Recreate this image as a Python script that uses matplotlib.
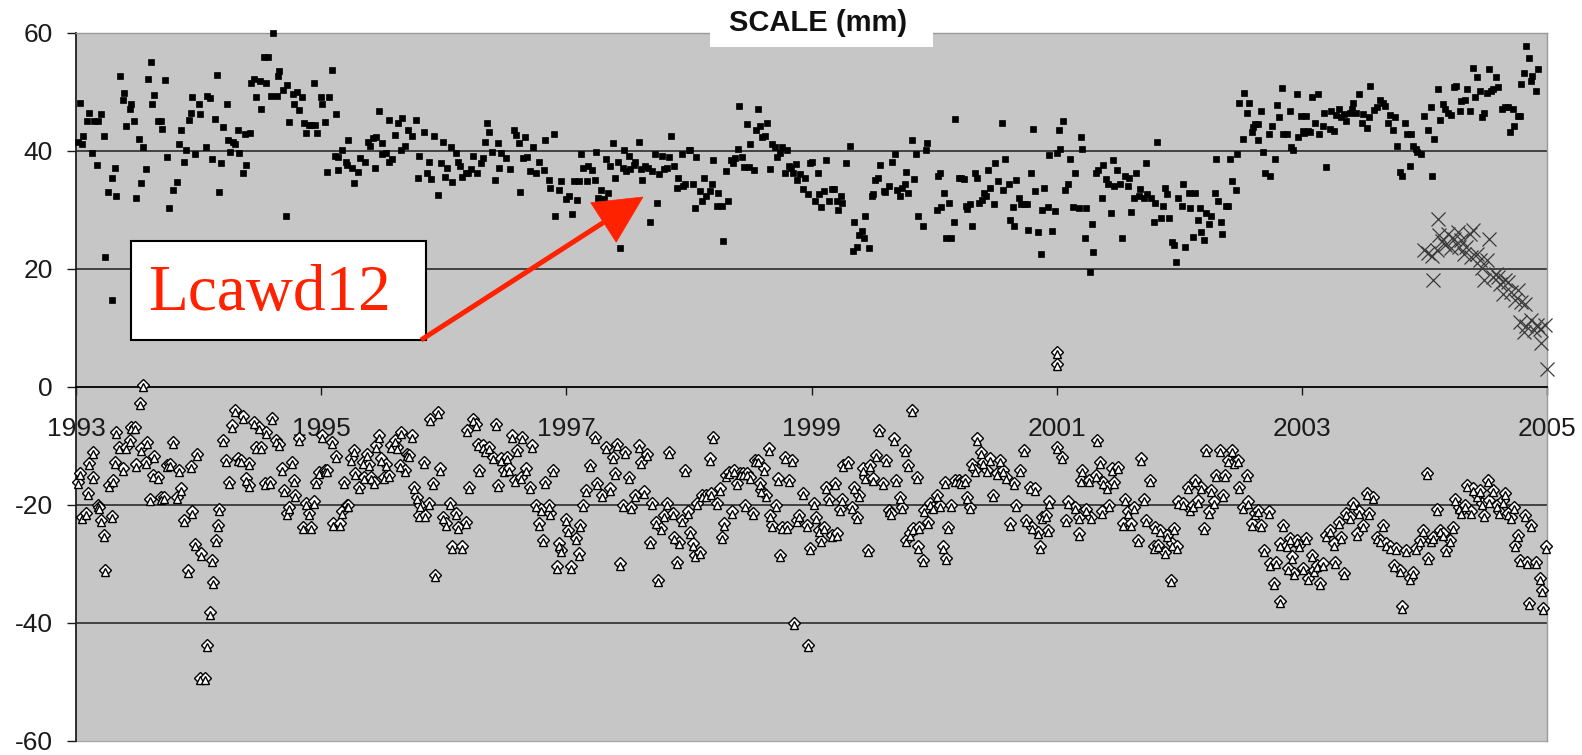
import numpy as np
import matplotlib
matplotlib.use('Agg')
import matplotlib.pyplot as plt
from matplotlib.patches import Rectangle, Polygon
from matplotlib.lines import Line2D
from matplotlib.transforms import ScaledTranslation

plt.rcParams['font.family'] = ['Liberation Sans', 'DejaVu Sans']
plt.rcParams['axes.unicode_minus'] = False

# weekly scale solutions (year, mm)
upper = [
    (1993.03, 48.1), (1993.02, 41.6), (1993.05, 41.2), (1993.06, 42.6), (1993.09, 45.0), (1993.11, 46.4), (1993.13, 39.6), (1993.15, 45.0),
    (1993.18, 45.0), (1993.17, 37.7), (1993.20, 46.2), (1993.23, 42.6), (1993.24, 22.0), (1993.26, 33.1), (1993.29, 35.5), (1993.29, 14.7),
    (1993.32, 37.2), (1993.33, 32.4), (1993.36, 52.7), (1993.38, 48.7), (1993.39, 49.8), (1993.41, 44.3), (1993.44, 47.1), (1993.45, 47.9),
    (1993.47, 45.0), (1993.49, 32.1), (1993.51, 42.0), (1993.53, 34.5), (1993.55, 40.6), (1993.57, 37.0), (1993.59, 52.2), (1993.61, 55.1),
    (1993.62, 47.9), (1993.64, 49.5), (1993.67, 45.0), (1993.69, 45.0), (1993.70, 43.7), (1993.73, 52.0), (1993.74, 38.9), (1993.76, 30.4),
    (1993.79, 33.4), (1993.82, 34.8), (1993.84, 41.2), (1993.86, 43.6), (1993.88, 38.2), (1993.90, 40.2), (1993.92, 45.3), (1993.94, 46.4),
    (1993.95, 49.1), (1993.97, 39.5), (1994.00, 47.9), (1994.01, 46.2), (1994.06, 40.6), (1994.07, 49.3), (1994.09, 48.9), (1994.11, 38.7),
    (1994.13, 45.5), (1994.15, 52.9), (1994.17, 33.1), (1994.18, 38.0), (1994.20, 44.0), (1994.23, 47.9), (1994.24, 41.9), (1994.26, 39.9),
    (1994.28, 41.6), (1994.30, 41.2), (1994.32, 43.5), (1994.33, 39.6), (1994.36, 36.2), (1994.38, 42.9), (1994.39, 37.7), (1994.42, 43.0),
    (1994.43, 51.5), (1994.45, 52.2), (1994.47, 49.2), (1994.50, 51.8), (1994.51, 47.1), (1994.53, 55.9), (1994.55, 51.5), (1994.57, 55.9),
    (1994.59, 49.3), (1994.61, 60.0), (1994.64, 49.3), (1994.65, 52.7), (1994.66, 53.5), (1994.69, 50.4), (1994.71, 29.0), (1994.72, 51.2),
    (1994.74, 44.9), (1994.77, 49.6), (1994.78, 47.9), (1994.80, 50.0), (1994.82, 47.0), (1994.84, 49.1), (1994.86, 44.7), (1994.88, 43.1),
    (1994.90, 44.4), (1994.92, 44.4), (1994.94, 51.5), (1994.95, 44.4), (1994.97, 43.1), (1995.00, 49.2), (1995.01, 47.9), (1995.03, 44.9),
    (1995.06, 49.2), (1995.09, 53.7), (1995.12, 46.2), (1995.11, 39.2), (1995.05, 36.5), (1995.14, 36.7), (1995.14, 39.0), (1995.17, 40.2),
    (1995.20, 38.2), (1995.22, 41.9), (1995.21, 37.6), (1995.25, 37.1), (1995.27, 34.6), (1995.30, 36.5), (1995.32, 38.8), (1995.36, 38.2),
    (1995.38, 41.6), (1995.40, 40.9), (1995.42, 42.2), (1995.44, 37.2), (1995.45, 42.4), (1995.47, 46.7), (1995.50, 41.3), (1995.50, 39.5),
    (1995.53, 39.6), (1995.55, 45.2), (1995.55, 38.1), (1995.58, 38.6), (1995.60, 42.7), (1995.63, 44.7), (1995.65, 40.2), (1995.66, 45.6),
    (1995.68, 40.9), (1995.71, 43.6), (1995.74, 42.6), (1995.77, 45.3), (1995.79, 35.5), (1995.80, 39.2), (1995.84, 43.3), (1995.86, 36.2),
    (1995.88, 38.2), (1995.90, 35.3), (1995.92, 42.6), (1995.95, 32.5), (1995.98, 37.9), (1995.99, 41.6), (1996.01, 35.6), (1996.03, 37.1),
    (1996.06, 40.6), (1996.07, 34.8), (1996.10, 39.6), (1996.12, 38.2), (1996.13, 37.5), (1996.15, 35.6), (1996.18, 36.2), (1996.20, 36.2),
    (1996.22, 36.9), (1996.24, 39.2), (1996.27, 36.3), (1996.30, 37.9), (1996.32, 38.8), (1996.34, 41.6), (1996.35, 44.7), (1996.37, 43.3),
    (1996.39, 39.9), (1996.42, 35.1), (1996.44, 41.3), (1996.45, 37.2), (1996.47, 39.6), (1996.51, 38.8), (1996.54, 37.0), (1996.57, 43.6),
    (1996.59, 42.7), (1996.61, 41.3), (1996.62, 33.1), (1996.65, 38.8), (1996.66, 42.4), (1996.68, 38.9), (1996.70, 36.6), (1996.73, 40.6),
    (1996.75, 36.3), (1996.78, 38.2), (1996.82, 36.7), (1996.83, 41.9), (1996.86, 35.1), (1996.87, 33.7),
    (1996.90, 42.8), (1996.91, 29.0), (1996.94, 33.4), (1996.96, 34.9), (1997.00, 31.8), (1997.02, 32.4), (1997.05, 29.4), (1997.06, 34.9),
    (1997.09, 31.7), (1997.10, 34.9), (1997.12, 39.5), (1997.14, 37.2), (1997.17, 34.9), (1997.18, 37.5), (1997.21, 36.7), (1997.23, 35.1),
    (1997.24, 39.9), (1997.26, 32.1), (1997.28, 33.4), (1997.31, 31.9), (1997.32, 38.6), (1997.34, 32.9), (1997.36, 37.5), (1997.38, 41.3),
    (1997.40, 35.5), (1997.42, 38.2), (1997.44, 23.5), (1997.46, 37.2), (1997.47, 40.2), (1997.49, 36.6), (1997.51, 39.2), (1997.52, 36.9),
    (1997.55, 37.6), (1997.56, 38.2), (1997.59, 41.6), (1997.61, 36.9), (1997.62, 35.1), (1997.64, 37.5), (1997.67, 37.2), (1997.68, 28.0),
    (1997.70, 36.6), (1997.72, 39.5), (1997.74, 31.2), (1997.76, 36.1), (1997.78, 39.2), (1997.80, 36.9), (1997.82, 37.1), (1997.84, 38.9),
    (1997.85, 42.5), (1997.88, 37.5), (1997.90, 33.8), (1997.91, 35.5), (1997.94, 39.5), (1997.95, 34.1), (1997.97, 34.4), (1998.00, 40.1),
    (1998.01, 40.2), (1998.03, 34.4), (1998.05, 30.3), (1998.06, 38.9), (1998.09, 33.2), (1998.11, 31.5), (1998.12, 35.5), (1998.14, 32.3),
    (1998.17, 33.3), (1998.19, 34.4), (1998.20, 38.4), (1998.23, 30.7), (1998.24, 32.8), (1998.27, 30.7), (1998.28, 24.7), (1998.30, 36.6),
    (1998.32, 31.5), (1998.34, 38.5), (1998.36, 37.9), (1998.38, 38.8), (1998.40, 40.4), (1998.41, 47.6), (1998.43, 38.9), (1998.45, 37.3),
    (1998.47, 44.5), (1998.49, 37.3), (1998.50, 41.2), (1998.53, 36.8), (1998.55, 43.6), (1998.56, 47.2), (1998.58, 44.2), (1998.60, 42.4),
    (1998.62, 42.5), (1998.64, 44.7), (1998.66, 37.0), (1998.68, 41.2), (1998.70, 40.6), (1998.72, 38.9), (1998.74, 39.7), (1998.76, 40.7),
    (1998.78, 36.3), (1998.80, 40.2), (1998.82, 37.5), (1998.83, 37.1), (1998.85, 36.3), (1998.87, 37.8), (1998.88, 35.1), (1998.91, 36.1),
    (1998.93, 33.6), (1998.95, 35.4), (1998.97, 32.7), (1998.99, 38.0), (1999.00, 38.2), (1999.03, 31.5), (1999.05, 36.3), (1999.06, 32.7),
    (1999.08, 30.5), (1999.10, 33.3), (1999.12, 38.4), (1999.14, 31.6), (1999.17, 33.6), (1999.18, 33.6), (1999.21, 31.5), (1999.22, 30.0),
    (1999.24, 32.4), (1999.25, 31.2), (1999.28, 37.9), (1999.31, 40.8), (1999.34, 23.0), (1999.35, 28.0), (1999.37, 23.8), (1999.39, 25.8),
    (1999.41, 26.4), (1999.43, 25.2), (1999.44, 29.0), (1999.47, 23.5), (1999.49, 32.3), (1999.50, 32.7), (1999.52, 35.1), (1999.54, 35.5),
    (1999.56, 37.7), (1999.59, 33.2), (1999.60, 33.0), (1999.63, 34.1), (1999.66, 38.2), (1999.68, 39.5), (1999.70, 33.4), (1999.72, 32.4),
    (1999.74, 33.7), (1999.76, 34.4), (1999.77, 36.5), (1999.79, 32.8), (1999.82, 41.9), (1999.84, 35.3), (1999.85, 39.5), (1999.87, 29.0),
    (1999.91, 27.3), (1999.94, 41.3), (1999.93, 40.2), (2000.02, 30.0), (2000.03, 35.8), (2000.05, 36.3), (2000.06, 30.5), (2000.08, 32.9),
    (2000.10, 25.2), (2000.14, 25.2), (2000.12, 31.2), (2000.16, 27.9), (2000.17, 45.4), (2000.20, 35.4), (2000.22, 35.5), (2000.24, 35.2),
    (2000.26, 30.6), (2000.27, 30.1), (2000.29, 31.1), (2000.31, 27.3), (2000.33, 36.3), (2000.35, 35.5), (2000.37, 31.2), (2000.39, 31.7),
    (2000.41, 32.8), (2000.42, 32.4), (2000.44, 36.8), (2000.46, 33.8), (2000.49, 31.0), (2000.50, 38.0), (2000.52, 34.9), (2000.55, 44.7),
    (2000.56, 33.4), (2000.58, 38.6), (2000.61, 34.4), (2000.62, 28.3), (2000.64, 30.5), (2000.65, 27.3), (2000.67, 35.1), (2000.69, 32.1),
    (2000.71, 31.0), (2000.73, 31.0), (2000.76, 31.0), (2000.77, 26.6), (2000.79, 36.3), (2000.81, 43.7), (2000.82, 33.2), (2000.85, 26.2),
    (2000.87, 22.5), (2000.88, 30.0), (2000.90, 33.8), (2000.93, 30.5), (2000.94, 39.4), (2000.96, 26.4), (2000.99, 29.8), (2001.00, 39.7),
    (2001.02, 43.6), (2001.03, 40.3), (2001.05, 45.0), (2001.07, 33.4), (2001.09, 34.4), (2001.11, 38.6), (2001.13, 30.5), (2001.15, 36.3),
    (2001.18, 30.3), (2001.20, 42.3), (2001.21, 40.3), (2001.23, 25.2), (2001.24, 30.3), (2001.27, 19.5), (2001.29, 27.6), (2001.30, 22.8),
    (2001.32, 36.2), (2001.34, 36.8), (2001.37, 32.0), (2001.38, 37.7), (2001.40, 35.2), (2001.42, 34.4), (2001.44, 29.5), (2001.46, 38.5),
    (2001.47, 34.1), (2001.49, 36.8), (2001.52, 34.4), (2001.53, 25.2), (2001.56, 35.8), (2001.58, 34.1), (2001.59, 35.4), (2001.61, 29.7),
    (2001.63, 32.0), (2001.65, 36.3), (2001.67, 32.4), (2001.68, 33.6), (2001.71, 32.1), (2001.73, 38.0), (2001.74, 32.7), (2001.77, 32.1),
    (2001.79, 27.9), (2001.80, 31.2), (2001.82, 41.6), (2001.85, 28.6), (2001.87, 30.7), (2001.88, 33.8), (2001.90, 32.7), (2001.92, 28.6),
    (2001.94, 24.5), (2001.96, 24.1), (2001.97, 21.2), (2001.99, 32.1), (2002.02, 30.7), (2002.03, 34.4), (2002.05, 23.8), (2002.08, 32.9),
    (2002.09, 30.3), (2002.11, 25.5), (2002.13, 32.9), (2002.15, 28.3), (2002.17, 30.3), (2002.18, 26.2), (2002.20, 24.9), (2002.22, 29.5),
    (2002.24, 27.6), (2002.26, 29.0), (2002.29, 32.9), (2002.30, 38.6), (2002.32, 31.5), (2002.34, 27.9), (2002.35, 25.9), (2002.38, 30.7),
    (2002.40, 30.7), (2002.41, 38.6), (2002.43, 34.9), (2002.46, 33.4), (2002.47, 39.5), (2002.49, 48.1), (2002.52, 42.0), (2002.53, 49.8),
    (2002.55, 46.4), (2002.57, 48.1), (2002.59, 43.3), (2002.60, 44.0), (2002.62, 44.5), (2002.64, 44.5), (2002.64, 41.9), (2002.67, 46.7),
    (2002.68, 39.9), (2002.70, 36.3), (2002.73, 42.8), (2002.74, 35.8), (2002.76, 44.2), (2002.78, 38.6), (2002.80, 47.8), (2002.81, 45.7),
    (2002.84, 50.7), (2002.85, 42.8), (2002.88, 42.8), (2002.90, 46.7), (2002.91, 40.7), (2002.93, 40.2), (2002.96, 49.6), (2002.97, 42.4),
    (2002.99, 45.9), (2003.01, 43.4), (2003.02, 43.0), (2003.03, 45.9), (2003.05, 43.4), (2003.07, 43.3), (2003.08, 49.1), (2003.11, 44.8),
    (2003.13, 49.6), (2003.14, 42.8), (2003.17, 44.2), (2003.18, 46.4), (2003.20, 37.3), (2003.23, 43.8), (2003.24, 46.7), (2003.26, 43.4),
    (2003.28, 46.1), (2003.30, 47.2), (2003.32, 45.8), (2003.34, 46.2), (2003.36, 45.1), (2003.39, 46.5), (2003.41, 47.2), (2003.42, 48.1),
    (2003.44, 46.5), (2003.47, 49.6), (2003.49, 44.8), (2003.50, 46.2), (2003.53, 43.9), (2003.55, 45.8), (2003.56, 51.0), (2003.59, 46.9),
    (2003.61, 47.4), (2003.64, 48.6), (2003.66, 48.1), (2003.68, 47.6), (2003.70, 44.8), (2003.72, 46.1), (2003.74, 43.6), (2003.76, 45.7),
    (2003.78, 40.8), (2003.80, 36.5), (2003.82, 35.7), (2003.84, 44.8), (2003.86, 42.8), (2003.88, 37.5), (2003.89, 42.8), (2003.91, 40.8),
    (2003.93, 40.3), (2003.94, 39.9), (2003.97, 39.5), (2004.00, 45.9), (2004.03, 43.6), (2004.05, 47.4), (2004.06, 35.7), (2004.08, 42.1),
    (2004.11, 50.5), (2004.13, 45.2), (2004.15, 47.9), (2004.17, 47.1), (2004.19, 46.5), (2004.22, 46.1), (2004.24, 50.8), (2004.26, 51.0),
    (2004.29, 46.7), (2004.30, 48.5), (2004.33, 48.6), (2004.35, 50.5), (2004.37, 46.7), (2004.40, 54.1), (2004.41, 49.1), (2004.43, 52.5),
    (2004.45, 50.1), (2004.47, 45.7), (2004.49, 46.4), (2004.51, 49.9), (2004.53, 53.9), (2004.54, 50.2), (2004.56, 50.5), (2004.58, 52.5),
    (2004.60, 50.8), (2004.63, 47.2), (2004.66, 47.4), (2004.68, 47.4), (2004.70, 43.3), (2004.72, 47.2), (2004.73, 44.2), (2004.76, 45.9),
    (2004.78, 45.9), (2004.79, 51.3), (2004.81, 53.3), (2004.83, 57.8), (2004.85, 55.8), (2004.87, 51.9), (2004.88, 52.7), (2004.91, 50.2),
    (2004.93, 53.9),
]

lower = [
    (1993.03, -14.6), (1993.02, -16.1), (1993.05, -22.0), (1993.08, -21.4), (1993.10, -18.0), (1993.11, -12.8), (1993.14, -11.0), (1993.14, -15.2),
    (1993.18, -20.0), (1993.19, -20.3), (1993.20, -22.5), (1993.23, -25.1), (1993.24, -31.0), (1993.27, -16.6), (1993.29, -21.9), (1993.30, -15.8),
    (1993.32, -12.7), (1993.33, -7.6), (1993.35, -10.1), (1993.38, -13.8), (1993.41, -10.1), (1993.44, -9.0), (1993.45, -6.8), (1993.48, -6.8),
    (1993.49, -13.1), (1993.52, -2.7), (1993.55, 0.3), (1993.53, -10.4), (1993.57, -12.7), (1993.58, -9.3), (1993.60, -18.9), (1993.63, -14.9),
    (1993.64, -11.7), (1993.67, -15.2), (1993.69, -18.7), (1993.72, -18.6), (1993.74, -13.2), (1993.77, -13.0), (1993.79, -9.3), (1993.82, -18.6),
    (1993.84, -14.1), (1993.86, -17.2), (1993.88, -22.5), (1993.91, -31.1), (1993.94, -13.4), (1993.95, -21.1), (1993.97, -26.6), (1993.99, -11.4),
    (1994.02, -28.2), (1994.01, -49.3), (1994.05, -49.3), (1994.07, -43.7), (1994.09, -38.2), (1994.11, -29.3), (1994.12, -33.0), (1994.14, -25.9),
    (1994.16, -23.4), (1994.17, -20.6), (1994.20, -9.0), (1994.22, -12.4), (1994.25, -16.1), (1994.27, -6.5), (1994.30, -3.9), (1994.32, -12.1),
    (1994.35, -12.4), (1994.36, -5.0), (1994.39, -15.5), (1994.41, -12.8), (1994.41, -16.6), (1994.45, -5.9), (1994.47, -10.1), (1994.49, -6.8),
    (1994.51, -10.1), (1994.54, -16.3), (1994.55, -7.6), (1994.58, -16.1), (1994.60, -5.2), (1994.63, -9.0), (1994.66, -9.6), (1994.68, -13.8),
    (1994.70, -17.5), (1994.72, -21.3), (1994.74, -20.3), (1994.76, -12.7), (1994.78, -15.8), (1994.79, -18.3), (1994.82, -8.7), (1994.85, -23.7),
    (1994.88, -19.7), (1994.90, -21.4), (1994.92, -23.7), (1994.94, -19.4), (1994.96, -16.1), (1994.98, -14.4), (1995.01, -8.2), (1995.03, -14.1),
    (1995.05, -14.1), (1995.09, -9.3), (1995.10, -23.1), (1995.12, -11.7), (1995.15, -23.1), (1995.17, -21.1), (1995.19, -16.1), (1995.21, -20.0),
    (1995.22, -20.0), (1995.24, -12.1), (1995.27, -10.7), (1995.28, -14.6), (1995.31, -16.9), (1995.34, -12.7), (1995.35, -15.2), (1995.37, -11.3),
    (1995.39, -13.0), (1995.41, -15.2), (1995.43, -16.1), (1995.45, -9.9), (1995.47, -8.2), (1995.49, -12.1), (1995.51, -15.2), (1995.53, -13.0),
    (1995.55, -14.9), (1995.57, -9.9), (1995.60, -9.0), (1995.62, -10.1), (1995.64, -13.2), (1995.65, -7.6), (1995.68, -14.1), (1995.70, -11.3),
    (1995.72, -11.5), (1995.74, -8.2), (1995.76, -16.9), (1995.78, -18.6), (1995.80, -21.7), (1995.81, -20.0), (1995.84, -12.7), (1995.85, -21.7),
    (1995.88, -19.7), (1995.89, -5.4), (1995.91, -16.3), (1995.93, -31.8), (1995.95, -4.2), (1995.97, -13.8), (1995.99, -22.0), (1996.02, -23.1),
    (1996.05, -19.7), (1996.07, -27.0), (1996.10, -21.4), (1996.12, -23.7), (1996.15, -27.0), (1996.18, -22.8), (1996.19, -7.3), (1996.21, -16.9),
    (1996.24, -5.4), (1996.26, -6.2), (1996.28, -9.6), (1996.29, -14.1), (1996.32, -9.9), (1996.34, -10.7), (1996.37, -10.1), (1996.40, -11.8),
    (1996.43, -6.2), (1996.44, -16.6), (1996.47, -12.1), (1996.49, -14.1), (1996.52, -11.8), (1996.53, -13.8), (1996.56, -8.2), (1996.58, -15.8),
    (1996.60, -10.7), (1996.63, -15.2), (1996.64, -8.5), (1996.67, -13.8), (1996.70, -16.9), (1996.72, -9.9), (1996.75, -20.0), (1996.78, -23.1),
    (1996.79, -20.6), (1996.81, -25.9), (1996.83, -16.1), (1996.86, -20.0), (1996.87, -21.4), (1996.89, -14.1), (1996.92, -30.4), (1996.94, -26.5),
    (1996.96, -27.6), (1997.00, -22.3), (1997.01, -24.2), (1997.04, -30.4),
    (1997.10, -28.2), (1997.08, -25.6), (1997.11, -23.4), (1997.14, -20.0), (1997.16, -17.5), (1997.19, -13.2), (1997.23, -8.5), (1997.25, -16.3),
    (1997.29, -18.3), (1997.32, -10.1), (1997.36, -17.2), (1997.38, -11.8), (1997.41, -9.6), (1997.40, -14.6), (1997.44, -29.9), (1997.46, -20.0),
    (1997.48, -11.0), (1997.51, -15.2), (1997.53, -20.3), (1997.56, -18.3), (1997.59, -9.9), (1997.61, -12.7), (1997.63, -17.7), (1997.66, -11.3),
    (1997.68, -26.2), (1997.70, -19.7), (1997.73, -22.8), (1997.75, -32.7), (1997.77, -23.9), (1997.80, -21.7), (1997.82, -19.7), (1997.84, -11.0),
    (1997.87, -21.4), (1997.88, -25.4), (1997.90, -29.6), (1997.92, -26.2), (1997.94, -22.5), (1997.97, -14.1), (1997.99, -21.1), (1998.01, -24.5),
    (1998.03, -26.5), (1998.05, -28.5), (1998.07, -19.7), (1998.09, -27.9), (1998.11, -18.3), (1998.14, -18.3), (1998.17, -12.1), (1998.18, -18.0),
    (1998.20, -8.5), (1998.23, -19.7), (1998.25, -17.2), (1998.27, -25.4), (1998.29, -23.1), (1998.30, -14.9), (1998.33, -14.4), (1998.35, -21.1),
    (1998.37, -14.1), (1998.39, -16.3), (1998.42, -14.6), (1998.44, -14.6), (1998.46, -20.0), (1998.47, -14.6), (1998.50, -15.2), (1998.52, -21.4),
    (1998.54, -12.4), (1998.56, -12.4), (1998.58, -16.3), (1998.59, -17.5), (1998.61, -13.8), (1998.63, -18.3), (1998.65, -10.4), (1998.66, -21.7),
    (1998.68, -23.4), (1998.71, -20.0), (1998.73, -15.5), (1998.74, -28.5), (1998.76, -23.7), (1998.78, -11.8), (1998.80, -23.7), (1998.82, -15.8),
    (1998.84, -12.4), (1998.86, -40.0), (1998.88, -22.5), (1998.90, -21.7), (1998.93, -18.0), (1998.96, -23.4), (1998.97, -43.7), (1998.99, -27.3),
    (1999.02, -19.7), (1999.04, -22.0), (1999.06, -24.2), (1999.08, -25.9), (1999.10, -23.7), (1999.12, -16.9), (1999.14, -18.9), (1999.17, -25.1),
    (1999.19, -16.3), (1999.21, -24.8), (1999.23, -20.6), (1999.25, -18.9), (1999.26, -13.2), (1999.30, -12.7), (1999.33, -20.3), (1999.35, -16.9),
    (1999.37, -22.0), (1999.39, -18.3), (1999.42, -13.8), (1999.44, -15.2), (1999.46, -27.6), (1999.48, -13.2), (1999.50, -15.5), (1999.53, -11.5),
    (1999.55, -7.3), (1999.58, -16.3), (1999.61, -12.4), (1999.63, -20.8), (1999.65, -21.4), (1999.67, -8.7), (1999.69, -15.8), (1999.72, -18.6),
    (1999.74, -20.3), (1999.76, -10.7), (1999.79, -13.2), (1999.82, -3.9), (1999.86, -15.2), (1999.77, -25.9), (1999.80, -24.8), (1999.83, -23.9),
    (1999.87, -27.0), (1999.91, -29.3), (1999.88, -23.7), (1999.92, -20.8), (1999.95, -22.8), (1999.97, -19.7), (1999.99, -20.3), (2000.02, -18.3),
    (2000.05, -20.0), (2000.07, -27.0), (2000.09, -16.1), (2000.10, -29.0), (2000.11, -23.7), (2000.14, -20.0), (2000.17, -15.8), (2000.20, -15.8),
    (2000.22, -16.1), (2000.25, -15.8), (2000.27, -18.6), (2000.29, -20.3), (2000.31, -13.0), (2000.33, -14.1), (2000.35, -8.7), (2000.38, -11.0),
    (2000.40, -12.7), (2000.43, -14.1), (2000.46, -12.1), (2000.48, -18.3), (2000.51, -14.6), (2000.54, -12.4), (2000.56, -14.1), (2000.59, -15.2),
    (2000.62, -23.1), (2000.65, -16.3), (2000.67, -20.0), (2000.70, -14.1), (2000.73, -10.7), (2000.75, -22.5), (2000.78, -16.9), (2000.80, -23.7),
    (2000.82, -17.2), (2000.85, -24.5), (2000.86, -27.0), (2000.88, -22.0), (2000.91, -21.7), (2000.93, -24.2), (2000.94, -19.4), (2001.00, -10.1),
    (2001.04, -11.8), (2001.08, -22.5), (2001.09, -19.4), (2001.00, 6.0), (2001.00, 3.9),
    (2001.15, -20.3), (2001.18, -24.8), (2001.18, -22.0), (2001.20, -15.8), (2001.21, -14.1), (2001.24, -20.6), (2001.26, -15.8), (2001.28, -22.0),
    (2001.32, -14.9), (2001.33, -9.0), (2001.35, -12.7), (2001.37, -21.1), (2001.38, -16.1), (2001.41, -16.9), (2001.43, -20.0), (2001.45, -13.8),
    (2001.47, -16.1), (2001.50, -13.5), (2001.54, -23.1), (2001.56, -18.9), (2001.58, -21.1), (2001.61, -23.1), (2001.63, -20.3), (2001.66, -25.9),
    (2001.69, -12.1), (2001.71, -18.9), (2001.73, -22.5), (2001.76, -15.8), (2001.79, -27.0), (2001.80, -23.7), (2001.83, -26.8), (2001.84, -24.2),
    (2001.88, -27.9), (2001.90, -25.1), (2001.93, -32.7), (2001.94, -26.5), (2001.96, -23.9), (2001.98, -27.0), (2001.99, -19.4), (2002.03, -19.7),
    (2002.07, -16.9), (2002.09, -20.6), (2002.11, -20.0), (2002.13, -15.8), (2002.15, -19.2), (2002.18, -16.9), (2002.20, -23.9), (2002.22, -10.7),
    (2002.24, -21.1), (2002.26, -17.5), (2002.28, -19.4), (2002.30, -14.9), (2002.33, -10.7), (2002.36, -18.3), (2002.37, -14.9), (2002.40, -12.4),
    (2002.43, -10.7), (2002.45, -12.7), (2002.48, -12.4), (2002.49, -16.9), (2002.52, -20.3), (2002.55, -14.9), (2002.56, -19.4), (2002.59, -23.1),
    (2002.62, -21.4), (2002.64, -20.8), (2002.67, -23.4), (2002.69, -27.6), (2002.73, -21.1), (2002.74, -29.9), (2002.77, -33.2), (2002.79, -29.6),
    (2002.82, -36.3), (2002.82, -26.5), (2002.85, -23.4), (2002.88, -26.8), (2002.89, -30.7), (2002.90, -25.6), (2002.92, -28.7), (2002.94, -31.5),
    (2002.96, -25.9), (2002.98, -26.8), (2003.01, -30.7), (2003.03, -25.6), (2003.05, -32.4), (2003.08, -28.5), (2003.10, -31.0), (2003.12, -30.1),
    (2003.15, -33.2), (2003.17, -29.9), (2003.20, -25.1), (2003.23, -24.2), (2003.26, -26.5), (2003.27, -29.6), (2003.30, -22.8), (2003.32, -25.4),
    (2003.34, -31.5), (2003.36, -21.4), (2003.39, -22.0), (2003.42, -19.7), (2003.45, -24.8), (2003.47, -21.1), (2003.50, -23.4), (2003.53, -18.0),
    (2003.55, -21.4), (2003.58, -18.6), (2003.61, -25.4), (2003.64, -25.9), (2003.66, -23.4), (2003.69, -26.5), (2003.72, -27.0), (2003.75, -30.1),
    (2003.77, -27.3), (2003.80, -31.0), (2003.82, -37.2), (2003.85, -27.6), (2003.88, -32.4), (2003.91, -31.3), (2003.93, -27.3), (2003.96, -25.9),
    (2003.99, -24.2), (2004.02, -14.6), (2004.03, -29.0), (2004.05, -25.9), (2004.07, -25.4), (2004.10, -20.6), (2004.13, -24.2), (2004.15, -24.8),
    (2004.18, -27.6), (2004.21, -25.9), (2004.23, -23.7), (2004.25, -18.9), (2004.28, -20.3), (2004.30, -21.1), (2004.33, -20.0), (2004.35, -16.6),
    (2004.38, -21.1), (2004.40, -17.2), (2004.43, -18.3), (2004.45, -17.5), (2004.47, -19.7), (2004.49, -21.7), (2004.52, -15.8), (2004.53, -19.2),
    (2004.56, -17.5), (2004.59, -20.0), (2004.61, -21.1), (2004.64, -19.2), (2004.66, -18.0), (2004.68, -21.4), (2004.71, -22.0), (2004.73, -20.3),
    (2004.76, -25.1), (2004.74, -26.8), (2004.78, -29.3), (2004.82, -21.7), (2004.84, -29.6), (2004.85, -36.6), (2004.87, -23.4), (2004.91, -29.6),
    (2004.94, -32.4), (2004.96, -34.4), (2004.97, -37.5), (2004.995, -27.0),
]

crosses = [
    (2004.11, 28.4), (2004.00, 23.3), (2004.03, 22.7), (2004.06, 22.2), (2004.07, 18.2), (2004.10, 23.2), (2004.12, 25.7), (2004.14, 24.8),
    (2004.17, 24.0), (2004.19, 26.0), (2004.22, 23.6), (2004.24, 25.0), (2004.27, 26.3), (2004.28, 23.8), (2004.30, 24.9), (2004.32, 22.6),
    (2004.34, 23.8), (2004.37, 26.0), (2004.38, 22.1), (2004.40, 26.6), (2004.43, 22.6), (2004.45, 21.5), (2004.47, 20.1), (2004.49, 18.1),
    (2004.51, 21.5), (2004.53, 25.0), (2004.56, 18.7), (2004.58, 19.2), (2004.60, 18.7), (2004.62, 17.5), (2004.64, 15.8), (2004.66, 18.1),
    (2004.68, 17.8), (2004.71, 16.1), (2004.74, 14.7), (2004.76, 16.4), (2004.79, 14.4), (2004.82, 14.1), (2004.78, 11.0), (2004.81, 9.3),
    (2004.83, 10.3), (2004.87, 11.3), (2004.89, 9.6), (2004.92, 10.5), (2004.94, 9.9), (2004.95, 7.4), (2004.98, 10.5), (2004.996, 3.1),
]

year_ticks = [1993, 1995, 1997, 1999, 2001, 2003, 2005]
mm_ticks = [-60, -40, -20, 0, 20, 40, 60]
grid_mm = [40, 20, -20, -40]
title = 'SCALE (mm)'
label = 'Lcawd12'

W, H = 1582, 755
RED = '#ff2200'


def px(x, y):
    # top-left pixel -> figure fraction
    return x / W, 1 - y / H


fig = plt.figure(figsize=(W / 100, H / 100), dpi=100)
fig.patch.set_facecolor('white')
ax = fig.add_axes([76 / W, 14 / H, (1547 - 76) / W, (741 - 33) / H])
ax.set_facecolor('#c6c6c6')
ax.set_xlim(1993, 2005)
ax.set_ylim(-60, 60)

for g in grid_mm:
    ax.axhline(g, color='#1e1e1e', lw=1.1, zorder=1)
ax.axhline(-60, color='#a8a8a8', lw=1.0, zorder=1, clip_on=False)

ut, uv = zip(*upper)
ax.plot(ut, uv, ls='none', marker='s', ms=4.8, mfc='black', mec='black', mew=0.5, zorder=3, clip_on=False)

lt, lv = zip(*lower)
ax.plot(lt, lv, ls='none', marker='D', ms=6.2, mfc='white', mec='black', mew=1.0, zorder=3, clip_on=False)
shift = ax.transData + ScaledTranslation(0, -1.6 / 72, fig.dpi_scale_trans)
ax.plot(lt, lv, ls='none', marker='^', ms=6.0, mfc='white', mec='black', mew=1.0, zorder=3.1,
        transform=shift, clip_on=False)

ct, cv = zip(*crosses)
ax.plot(ct, cv, ls='none', marker='x', ms=9.5, mec='#3a3a3a', mew=0.9, zorder=4, clip_on=False)

# axes frame
ax.spines['bottom'].set_position(('data', 0))
ax.spines['bottom'].set_color('black')
ax.spines['bottom'].set_linewidth(1.3)
ax.spines['left'].set_color('#202020')
ax.spines['left'].set_linewidth(1.3)
for s in ['top', 'right']:
    ax.spines[s].set_color('#999999')
    ax.spines[s].set_linewidth(1.0)

ax.set_xticks(year_ticks)
ax.set_xticklabels([str(y) for y in year_ticks])
ax.set_yticks(mm_ticks)
ax.set_yticklabels([str(v) for v in mm_ticks])
ax.tick_params(axis='x', direction='out', length=5.8, width=1, pad=15.5, labelsize=19, colors='#1a1a1a')
ax.tick_params(axis='y', direction='out', length=6.5, width=1, pad=10, labelsize=19, colors='#1a1a1a')

# title in white box overlapping the top edge
fig.add_artist(Rectangle(px(710, 47), 223 / W, 47 / H, transform=fig.transFigure,
                         facecolor='white', edgecolor='none', zorder=5))
fig.text(*px(818, 23), title, ha='center', va='center', fontsize=21, fontweight='bold',
         color='#111111', zorder=6)

# annotation box with red label
fig.add_artist(Rectangle(px(131, 340), 295 / W, 99 / H, transform=fig.transFigure,
                         facecolor='white', edgecolor='black', lw=1.5, zorder=5))
fig.text(*px(270, 310), label, ha='center', va='baseline', fontsize=47,
         family=['Liberation Serif', 'DejaVu Serif'], color=RED, zorder=6)

# red arrow pointing to the scale series
S = np.array([421.0, 340.0])
T = np.array([643.0, 197.0])
u = (T - S) / np.linalg.norm(T - S)
n = np.array([-u[1], u[0]])
hl, hw = 47.0, 47.0
B = T - hl * u
c1, c2 = B + n * hw / 2, B - n * hw / 2
fig.add_artist(Line2D([px(*S)[0], px(*B)[0]], [px(*S)[1], px(*B)[1]], transform=fig.transFigure,
                      color=RED, lw=3.6, solid_capstyle='butt', zorder=6))
fig.add_artist(Polygon([px(*T), px(*c1), px(*c2)], closed=True, transform=fig.transFigure,
                       facecolor=RED, edgecolor=RED, lw=0.5, zorder=6))

fig.savefig('out.png', dpi=100)
